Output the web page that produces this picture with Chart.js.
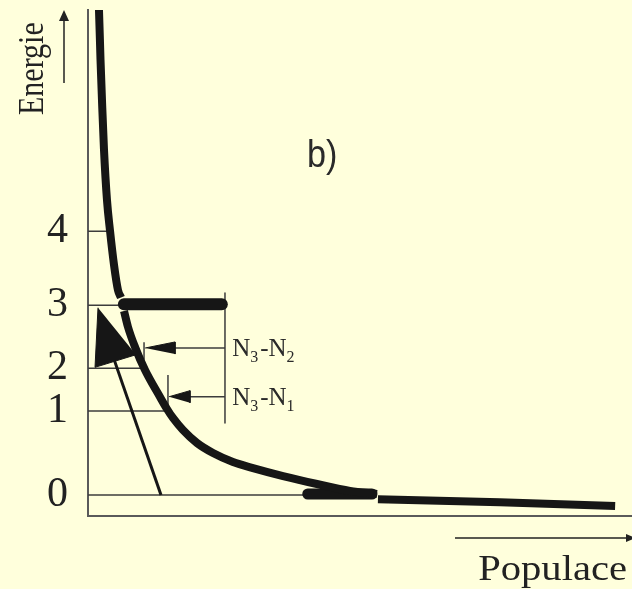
<!DOCTYPE html>
<html>
<head>
<meta charset="utf-8">
<script src="https://cdn.jsdelivr.net/npm/chart.js@4/dist/chart.umd.min.js"></script>
<style>
  html, body { margin: 0; padding: 0; background: #ffffdc; }
  #wrap { width: 632px; height: 589px; }
</style>
</head>
<body>
<div id="wrap"><canvas id="c" width="632" height="589"></canvas></div>
<script>
// ---- data (energy in arbitrary units, population in % of axis) ----
const tickLabels   = ['0', '1', '2', '3', '4'];
const levelEnergy  = [0, 1.0, 1.51, 2.26, 3.14];
const levelLineEnd = [40.8, 14.5, 9.6, 11.4, 3.7];

// thermal (Boltzmann) curve, part above level 3
const upperPop    = [1.93, 2.02, 2.30, 2.57, 2.94, 3.49, 4.04, 4.78, 5.51, 6.07];
const upperEnergy = [5.87, 5.77, 5.18, 4.70, 4.11, 3.51, 3.15, 2.74, 2.44, 2.35];
// accumulated population on level 3
const barPop    = [6.6, 24.6];
const barEnergy = [2.27, 2.27];
// curve below level 3
const lowerPop    = [6.62, 7.35, 8.64, 10.48, 13.24, 14.52, 15.62, 17.46, 20.04, 22.98, 26.65, 30.33, 35.85, 42.10, 48.16, 53.13];
const lowerEnergy = [2.19, 2.0, 1.762, 1.488, 1.167, 1.024, 0.917, 0.774, 0.619, 0.5, 0.393, 0.321, 0.226, 0.131, 0.048, 0.012];
// ground state
const blobPop    = [40.4, 52.2];
const blobEnergy = [0.012, 0.012];
const tailPop    = [53.3, 75.7, 96.9];
const tailEnergy = [-0.05, -0.085, -0.13];
// pumping arrow
const pumpHeadPop    = [1.84, 1.29, 8.82];
const pumpHeadEnergy = [2.23, 1.52, 1.67];
const pumpShaftPop    = [2.94, 13.42];
const pumpShaftEnergy = [1.96, 0];
// inversion arrows
const diffNames      = [['N', '3', '-N', '2'], ['N', '3', '-N', '1']];
const diffEnergy     = [1.75, 1.17];
const diffTipPop     = [10.5, 14.9];
const diffHeadPop    = [16.0, 18.75];
const diffTickPop    = [10.3, 14.7];
const diffTickLow    = [1.61, 0.98];
const diffTickHigh   = [1.82, 1.43];
const bracketPop     = 25.18;
const bracketEnergy  = [2.405, 0.857];
const diffLabelPop   = 26.5;
const headHalf       = 0.072;

const INK = '#161616', THIN = '#3c3c3c', AXIS = '#5a5a5a';

function pts(xs, ys) { return xs.map((x, i) => ({ x: x, y: ys[i] })); }
function line(data, w, color, extra) {
  return Object.assign({ data: data, showLine: true, pointRadius: 0, borderColor: color,
    borderWidth: w, fill: false, tension: 0, borderJoinStyle: 'round' }, extra || {});
}
function tri(data, color) {
  return { data: data, showLine: true, pointRadius: 0, borderColor: color, borderWidth: 1,
    backgroundColor: color, fill: 'shape', tension: 0 };
}

const datasets = [];
// thick curves (drawn on top)
datasets.push(line(pts(upperPop, upperEnergy), 8, INK, { cubicInterpolationMode: 'monotone', order: 1 }));
datasets.push(line(pts(barPop, barEnergy), 12, INK, { borderCapStyle: 'round', order: 1 }));
datasets.push(line(pts(lowerPop, lowerEnergy), 8, INK, { cubicInterpolationMode: 'monotone', order: 1 }));
datasets.push(line(pts(blobPop, blobEnergy), 11, INK, { borderCapStyle: 'round', order: 1 }));
datasets.push(line(pts(tailPop, tailEnergy), 8, INK, { order: 1 }));
// pump arrow
datasets.push(tri(pts(pumpHeadPop, pumpHeadEnergy), INK));
datasets.push(line(pts(pumpShaftPop, pumpShaftEnergy), 3, INK, { order: 2 }));
// inversion arrows
datasets.push(line(pts([bracketPop, bracketPop], bracketEnergy), 1.5, THIN, { order: 3 }));
diffEnergy.forEach((e, i) => {
  datasets.push(line(pts([bracketPop, diffHeadPop[i]], [e, e]), 1.5, THIN, { order: 3 }));
  datasets.push(tri(pts([diffTipPop[i], diffHeadPop[i], diffHeadPop[i]], [e, e + headHalf, e - headHalf]), INK));
  datasets.push(line(pts([diffTickPop[i], diffTickPop[i]], [diffTickLow[i], diffTickHigh[i]]), 1.5, THIN, { order: 3 }));
});
// energy level lines (under everything)
levelEnergy.forEach((e, i) => {
  datasets.push(line(pts([0, levelLineEnd[i]], [e, e]), 1.5, THIN, { order: 10 }));
});

function stretched(ctx, text, x, y, sx, sy, align) {
  ctx.save();
  ctx.translate(x, y);
  ctx.scale(sx, sy);
  ctx.textAlign = align;
  ctx.fillText(text, 0, 0);
  ctx.restore();
}

const annotations = {
  id: 'annotations',
  afterDraw(chart) {
    const ctx = chart.ctx, a = chart.chartArea;
    const xs = chart.scales.x, ys = chart.scales.y;
    ctx.save();
    ctx.fillStyle = '#222';
    ctx.strokeStyle = '#222';
    ctx.textBaseline = 'alphabetic';

    // b)
    ctx.font = '38px "Liberation Sans"';
    ctx.fillStyle = '#2a2a2a';
    stretched(ctx, 'b)', 307, a.top + 157, 0.9, 1, 'left');

    // inversion labels with subscripts
    diffNames.forEach((parts, i) => {
      let x = xs.getPixelForValue(diffLabelPop);
      const y = ys.getPixelForValue(diffEnergy[i]) + 8;
      parts.forEach((p, k) => {
        const sub = k % 2 === 1;
        ctx.font = sub ? '16px "Liberation Serif"' : '25px "Liberation Serif"';
        ctx.textAlign = 'left';
        ctx.fillText(p, x, sub ? y + 6 : y);
        x += ctx.measureText(p).width + (sub ? 2 : 0);
      });
    });

    // Energie (vertical axis title) with arrow
    ctx.fillStyle = '#222';
    ctx.font = '30px "Liberation Serif"';
    ctx.save();
    ctx.translate(43, a.top + 105);
    ctx.rotate(-Math.PI / 2);
    ctx.scale(1, 1.17);
    ctx.textAlign = 'left';
    ctx.fillText('Energie', 0, 0);
    ctx.restore();
    ctx.lineWidth = 1.5;
    ctx.beginPath(); ctx.moveTo(64, a.top + 73); ctx.lineTo(64, a.top + 8); ctx.stroke();
    ctx.beginPath(); ctx.moveTo(64, a.top); ctx.lineTo(59, a.top + 11); ctx.lineTo(69, a.top + 11); ctx.closePath(); ctx.fill();

    // Populace (horizontal axis title) with arrow
    ctx.font = '35px "Liberation Serif"';
    stretched(ctx, 'Populace', a.right - 5, a.bottom + 64, 1.16, 1, 'right');
    ctx.beginPath(); ctx.moveTo(455, a.bottom + 22); ctx.lineTo(a.right, a.bottom + 22); ctx.stroke();
    ctx.beginPath(); ctx.moveTo(a.right + 4, a.bottom + 22); ctx.lineTo(a.right - 6, a.bottom + 18); ctx.lineTo(a.right - 6, a.bottom + 26); ctx.closePath(); ctx.fill();
    ctx.restore();
  }
};

new Chart(document.getElementById('c'), {
  type: 'scatter',
  data: { datasets: datasets },
  options: {
    responsive: false,
    animation: false,
    devicePixelRatio: 1,
    layout: { padding: { top: 10, right: 0, left: 0, bottom: 0 } },
    plugins: { legend: { display: false }, tooltip: { enabled: false } },
    scales: {
      x: {
        type: 'linear', min: 0, max: 100,
        ticks: { display: false },
        grid: { display: false, drawTicks: false },
        border: { display: true, color: AXIS, width: 2 },
        afterFit: s => { s.height = 73; s.paddingLeft = 0; s.paddingRight = 0; }
      },
      y: {
        type: 'linear', min: -0.25, max: 5.774,
        afterBuildTicks: s => { s.ticks = levelEnergy.map(v => ({ value: v })); },
        ticks: {
          callback: (v, i) => tickLabels[i],
          font: { family: 'Liberation Serif', size: 42 },
          color: '#222',
          padding: 20,
          autoSkip: false
        },
        grid: { display: false, drawTicks: false },
        border: { display: true, color: AXIS, width: 2 },
        afterFit: s => { s.width = 88; s.paddingTop = 0; s.paddingBottom = 0; }
      }
    }
  },
  plugins: [annotations]
});
</script>
</body>
</html>
